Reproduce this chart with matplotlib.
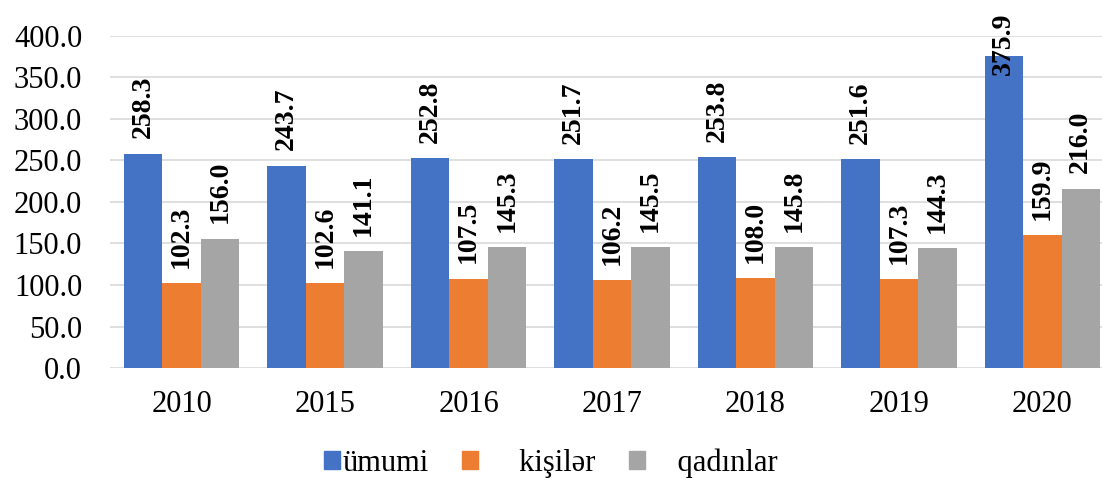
import matplotlib
matplotlib.use("Agg")
import matplotlib.pyplot as plt
import numpy as np
from matplotlib.patches import Patch

plt.rcParams['font.family'] = ['Liberation Serif', 'DejaVu Serif']

years = ["2010", "2015", "2016", "2017", "2018", "2019", "2020"]
umumi = [258.3, 243.7, 252.8, 251.7, 253.8, 251.6, 375.9]
kisiler = [102.3, 102.6, 107.5, 106.2, 108.0, 107.3, 159.9]
qadinlar = [156.0, 141.1, 145.3, 145.5, 145.8, 144.3, 216.0]
names = ["ümumi", "kişilər", "qadınlar"]
colors = ["#4472C4", "#ED7D31", "#A5A5A5"]

fig = plt.figure(figsize=(11.02, 4.83), dpi=100)
ax = fig.add_axes([110/1102, 115/483, 1004/1102, 332/483])

x = np.arange(len(years))
w = 0.268
series = [umumi, kisiler, qadinlar]
for i, vals in enumerate(series):
    pos = x + (i - 1) * w
    ax.bar(pos, vals, w, color=colors[i], zorder=3)
    for px, v in zip(pos, vals):
        # labels that would run off the top are pulled down onto the bar
        off = -14 if v > 350 else 11
        ax.annotate(f"{v:.1f}", (px, v), xytext=(0, off), textcoords="offset points",
                    rotation=90, ha="center", va="bottom", fontsize=20,
                    fontweight="bold", zorder=4, annotation_clip=False)

ax.set_xlim(-0.5, len(years) - 0.5)
ax.set_ylim(0, 400)
ax.set_yticks(np.arange(0, 401, 50))
ax.set_yticklabels([f"{t:.1f}" for t in np.arange(0, 401, 50)])
ax.set_xticks(x)
ax.set_xticklabels(years)
ax.tick_params(axis="both", length=0, labelsize=22)
ax.tick_params(axis="y", pad=20)
ax.tick_params(axis="x", pad=16)
ax.grid(axis="y", color="#D9D9D9", linewidth=1.2, zorder=0)
for s in ax.spines.values():
    s.set_visible(False)

handles = [Patch(color=c) for c in colors]
labels = [names[0], "     " + names[1], "    " + names[2]]
fig.legend(handles, labels, loc="center", bbox_to_anchor=(0.5, 20/483),
           ncol=3, frameon=False, fontsize=22, handlelength=0.52, handleheight=0.52,
           handletextpad=0.08, columnspacing=1.1)

fig.savefig("out.png", dpi=100)
